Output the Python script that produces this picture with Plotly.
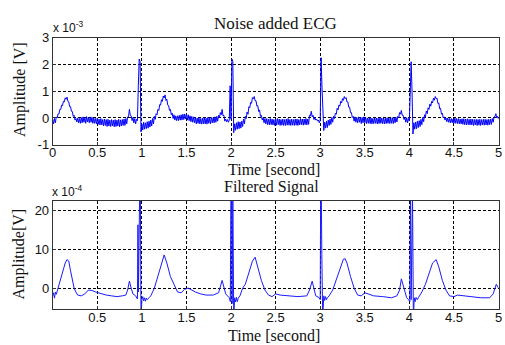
import plotly.graph_objects as go

# ---------------- data ----------------
# Noise added ECG, sampled every 0.01 s from 0 to 5 s, values in units of 1e-3 V
noisy_step = 0.01
noisy_mV = [
    -0.05, -0.22, -0.02, -0.18, 0.04, 0.00, 0.15, 0.15, 0.32, 0.32,
    0.48, 0.46, 0.62, 0.60, 0.75, 0.70, 0.78, 0.62, 0.60, 0.42,
    0.42, 0.25, 0.24, 0.06, 0.10, -0.08, -0.02, -0.15, 0.00, -0.18,
    -0.02, -0.20, 0.02, -0.18, 0.04, -0.16, 0.02, -0.20, 0.05, -0.15,
    0.02, -0.18, 0.04, -0.16, 0.03, -0.20, 0.00, -0.20, -0.02, -0.22,
    0.00, -0.24, -0.04, -0.26, -0.02, -0.26, -0.06, -0.30, -0.04, -0.28,
    -0.06, -0.32, -0.05, -0.30, -0.08, -0.32, -0.06, -0.30, -0.08, -0.33,
    -0.06, -0.32, -0.08, -0.30, -0.05, -0.33, -0.07, -0.30, -0.06, -0.28,
    -0.04, -0.28, -0.02, -0.22, 0.04, 0.05, 0.32, 0.10, 0.08, -0.10,
    0.02, -0.18, -0.02, -0.22, -0.05, -0.10, 1.20, 2.20, 2.10, -0.52,
    -0.22, -0.45, -0.16, -0.42, -0.18, -0.40, -0.14, -0.38, -0.12, -0.34,
    -0.08, -0.30, -0.02, -0.22, 0.06, -0.05, 0.16, 0.12, 0.32, 0.28,
    0.50, 0.48, 0.68, 0.62, 0.82, 0.75, 0.86, 0.65, 0.70, 0.48,
    0.46, 0.28, 0.32, 0.12, 0.18, -0.02, 0.12, -0.08, 0.08, -0.10,
    0.08, -0.10, 0.10, -0.08, 0.12, -0.08, 0.14, -0.06, 0.15, -0.04,
    0.14, -0.08, 0.12, -0.10, 0.08, -0.14, 0.06, -0.16, 0.04, -0.18,
    0.02, -0.22, 0.00, -0.20, 0.02, -0.22, -0.02, -0.23, 0.00, -0.22,
    0.02, -0.22, -0.01, -0.23, 0.02, -0.20, 0.00, -0.22, 0.02, -0.18,
    0.01, -0.18, 0.04, -0.16, 0.06, -0.12, 0.10, 0.02, 0.20, 0.12,
    0.32, 0.08, 0.10, -0.12, -0.04, -0.14, -0.06, -0.16, -0.08, 1.20,
    -0.05, 2.20, 2.10, -0.55, -0.22, -0.46, -0.18, -0.42, -0.14, -0.40,
    -0.15, -0.38, -0.12, -0.32, -0.04, -0.22, 0.06, -0.02, 0.22, 0.14,
    0.42, 0.38, 0.58, 0.55, 0.76, 0.72, 0.80, 0.64, 0.64, 0.44,
    0.46, 0.24, 0.30, 0.06, 0.10, -0.08, 0.01, -0.18, -0.02, -0.22,
    -0.02, -0.25, -0.04, -0.26, -0.02, -0.25, -0.04, -0.26, -0.06, -0.28,
    -0.04, -0.27, -0.02, -0.25, -0.04, -0.28, -0.06, -0.27, -0.04, -0.28,
    -0.06, -0.28, -0.04, -0.27, -0.02, -0.27, -0.06, -0.28, -0.04, -0.27,
    -0.06, -0.28, -0.04, -0.27, -0.04, -0.28, -0.06, -0.26, -0.02, -0.25,
    -0.04, -0.27, -0.04, -0.25, -0.02, -0.26, -0.04, -0.24, 0.10, 0.08,
    0.25, 0.04, 0.10, -0.06, 0.01, -0.08, -0.04, -0.12, -0.08, -0.18,
    -0.08, 2.25, 1.15, 0.00, -0.47, -0.16, -0.38, -0.12, -0.36, -0.08,
    -0.28, -0.04, -0.24, 0.02, -0.16, 0.06, -0.02, 0.18, 0.14, 0.36,
    0.30, 0.48, 0.44, 0.62, 0.56, 0.72, 0.66, 0.80, 0.72, 0.76,
    0.60, 0.60, 0.40, 0.40, 0.20, 0.20, 0.02, 0.06, -0.12, 0.04,
    -0.16, 0.02, -0.18, 0.04, -0.16, 0.02, -0.21, 0.02, -0.18, 0.04,
    -0.18, 0.02, -0.21, 0.00, -0.20, 0.01, -0.21, 0.00, -0.22, -0.02,
    -0.21, 0.01, -0.20, 0.00, -0.22, -0.01, -0.21, 0.01, -0.20, 0.00,
    -0.21, 0.00, -0.22, -0.01, -0.21, 0.01, -0.20, 0.00, -0.21, 0.01,
    -0.20, 0.01, -0.21, 0.00, -0.18, 0.02, -0.15, 0.06, 0.00, 0.20,
    0.14, 0.28, 0.10, 0.10, -0.06, 0.01, -0.16, 0.01, -0.18, -0.02,
    -0.10, 1.00, 2.10, 1.00, -0.60, -0.18, -0.42, -0.15, -0.40, -0.12,
    -0.36, -0.10, -0.32, -0.05, -0.25, 0.02, -0.14, 0.12, 0.04, 0.26,
    0.16, 0.38, 0.32, 0.52, 0.44, 0.62, 0.56, 0.74, 0.66, 0.80,
    0.72, 0.74, 0.54, 0.56, 0.34, 0.36, 0.14, 0.18, 0.00, 0.04,
    -0.08, 0.00, -0.14, 0.00, -0.16, -0.02, -0.18, -0.02, -0.18, -0.04,
    -0.20, 0.00, -0.20, -0.02, -0.21, -0.02, -0.22, -0.04, -0.22, -0.03,
    -0.24, -0.03, -0.25, -0.04, -0.26, -0.03, -0.25, -0.05, -0.26, -0.04,
    -0.26, -0.05, -0.28, -0.06, -0.26, -0.05, -0.28, -0.06, -0.27, -0.05,
    -0.28, -0.06, -0.26, -0.05, -0.27, -0.05, -0.26, -0.06, -0.27, -0.05,
    -0.25, -0.04, -0.24, -0.02, -0.16, 0.04, 0.05, 0.16, 0.00, 0.06,
    -0.05,
]
noisy_t = [round(i * noisy_step, 2) for i in range(len(noisy_mV))]

# Filtered signal: time [s] and value in units of 1e-4 V
filt_t = [
    0.00, 0.01, 0.02, 0.03, 0.04, 0.06, 0.08, 0.10, 0.12, 0.14, 0.16, 0.18, 0.20, 0.22, 0.24, 0.26,
    0.28, 0.32, 0.36, 0.40, 0.44, 0.48, 0.52, 0.56, 0.60, 0.66, 0.72, 0.78, 0.82, 0.84, 0.86, 0.88,
    0.90, 0.93, 0.95, 0.956, 0.962, 0.975, 0.983, 0.99, 1.00, 1.01, 1.02, 1.03, 1.04, 1.05, 1.06, 1.08,
    1.10, 1.14, 1.18, 1.22, 1.25, 1.28, 1.32, 1.36, 1.40, 1.44, 1.48, 1.52, 1.56, 1.60, 1.66, 1.72,
    1.80, 1.86, 1.90, 1.92, 1.94, 1.98, 1.992, 1.998, 2.005, 2.012, 2.02, 2.03, 2.04, 2.05, 2.06, 2.07,
    2.08, 2.10, 2.13, 2.16, 2.20, 2.24, 2.27, 2.30, 2.34, 2.38, 2.42, 2.46, 2.50, 2.55, 2.65, 2.75,
    2.85, 2.88, 2.91, 2.93, 2.95, 2.99, 3.00, 3.005, 3.012, 3.018, 3.028, 3.04, 3.05, 3.06, 3.07, 3.08,
    3.10, 3.14, 3.18, 3.22, 3.26, 3.28, 3.30, 3.34, 3.38, 3.42, 3.46, 3.50, 3.54, 3.60, 3.70, 3.80,
    3.86, 3.89, 3.91, 3.94, 3.97, 3.99, 4.005, 4.012, 4.02, 4.035, 4.045, 4.055, 4.065, 4.075, 4.09, 4.10,
    4.14, 4.18, 4.22, 4.26, 4.30, 4.33, 4.37, 4.41, 4.45, 4.50, 4.54, 4.60, 4.70, 4.80, 4.90, 4.94,
    4.975, 5.00,
]
filt_v = [
    -2.0, -1.2, -2.6, -1.0, -1.6, 0.0, 1.5, 3.0, 5.0, 6.5, 7.4, 7.0, 4.5, 2.0, 0.0, -1.0,
    -1.8, -2.0, -1.5, -0.5, -0.6, -1.0, -1.3, -1.5, -1.8, -2.0, -2.2, -2.0, -1.8, -0.5, 1.8, 0.0,
    -1.5, -2.0, -2.8, 16.4, -1.0, 25.0, 25.0, -8.0, -3.0, -2.2, -3.3, -2.5, -3.4, -2.6, -3.0, -2.5,
    -2.0, 0.0, 3.0, 6.5, 8.6, 6.5, 3.0, 1.0, -1.0, -1.2, -0.3, 0.0, -0.5, -1.0, -1.5, -1.8,
    -1.8, -1.2, 2.0, 0.5, -1.5, -2.5, -3.5, 25.0, 25.0, -4.0, 25.0, -8.0, -2.5, -3.6, -2.4, -3.5,
    -2.6, -2.0, 0.0, 1.0, 4.0, 7.0, 8.0, 5.5, 2.0, -0.5, -1.8, -2.2, -1.5, -1.8, -2.0, -2.2,
    -2.0, -0.5, 1.8, 0.0, -2.0, -2.5, -3.0, 25.0, 25.0, 9.0, -8.0, -2.0, -3.2, -2.2, -3.0, -2.5,
    -2.0, -0.5, 2.0, 5.0, 7.5, 7.6, 6.5, 3.0, 0.0, -1.8, -2.0, -1.2, -1.5, -2.0, -2.2, -2.5,
    -2.0, -0.5, 2.4, 0.0, -2.5, -3.0, -3.5, 25.0, -3.0, 25.0, -8.0, -2.5, -3.5, -2.4, -3.0, -2.5,
    -1.0, 1.0, 4.0, 6.5, 7.4, 5.5, 2.0, -0.5, -2.0, -2.2, -1.8, -2.0, -2.3, -2.5, -2.5, -1.5,
    1.0, 0.0,
]

top_y_ticks = [-1, 0, 1, 2, 3]
bot_y_ticks = [0, 10, 20]
top_x_ticks = [0, 0.5, 1, 1.5, 2, 2.5, 3, 3.5, 4, 4.5, 5]
bot_x_ticks = [0.5, 1, 1.5, 2, 2.5, 3, 3.5, 4, 4.5, 5]

def fmt(v):
    return ("%g" % v)

# ---------------- figure ----------------
W, H = 505, 345
fig = go.Figure()
fig.add_trace(go.Scatter(x=noisy_t, y=noisy_mV, mode="lines",
                         line=dict(color="#0000ff", width=1), xaxis="x", yaxis="y",
                         showlegend=False, hoverinfo="skip"))
fig.add_trace(go.Scatter(x=filt_t, y=filt_v, mode="lines",
                         line=dict(color="#1a1aff", width=1), xaxis="x2", yaxis="y2",
                         showlegend=False, hoverinfo="skip"))

x_dom = [49.5 / W, 502.5 / W]
top_dom = [1 - 144 / H, 1 - 32 / H]
bot_dom = [1 - 315.7 / H, 1 - 202.7 / H]

tickfont = dict(family="Liberation Sans, Arial, sans-serif", size=13, color="#111")
serif = "Liberation Serif, Times New Roman, serif"
common = dict(showline=True, mirror=True, linecolor="#333", linewidth=1,
              ticks="inside", ticklen=3, tickcolor="#333",
              showgrid=True, gridcolor="#000", gridwidth=1, griddash="3px,2px",
              zeroline=False, tickfont=tickfont, ticklabeloverflow="allow")

fig.update_layout(
    width=W, height=H,
    margin=dict(l=0, r=0, t=0, b=0),
    paper_bgcolor="white", plot_bgcolor="white",
    xaxis=dict(domain=x_dom, range=[0, 5], anchor="y", ticklabelstandoff=-4,
               tickvals=top_x_ticks, ticktext=[fmt(v) for v in top_x_ticks], **common),
    yaxis=dict(domain=top_dom, range=[-1, 3], anchor="x",
               tickvals=top_y_ticks, ticktext=[fmt(v) for v in top_y_ticks], **common),
    xaxis2=dict(domain=x_dom, range=[0, 5], anchor="y2", ticklabelstandoff=-4,
                tickvals=bot_x_ticks, ticktext=[fmt(v) for v in bot_x_ticks], **common),
    yaxis2=dict(domain=bot_dom, range=[-5.4, 22.6], anchor="x2",
                tickvals=bot_y_ticks, ticktext=[fmt(v) for v in bot_y_ticks], **common),
)

def px_x(p):
    return p / W

def px_y(p):
    return 1 - p / H

ann = []
# titles
ann.append(dict(text="Noise added ECG", x=px_x(276), y=px_y(17), font=dict(family=serif, size=17, color="#111")))
ann.append(dict(text="Filtered Signal", x=px_x(272), y=px_y(188.5), font=dict(family=serif, size=16, color="#111")))
# x labels
ann.append(dict(text="Time [second]", x=px_x(274), y=px_y(169.5), font=dict(family=serif, size=16, color="#111")))
ann.append(dict(text="Time [second]", x=px_x(274), y=px_y(343), font=dict(family=serif, size=16, color="#111")))
# y labels
ann.append(dict(text="Amplitude [V]", x=px_x(17), y=px_y(86), textangle=-90,
                font=dict(family=serif, size=16, color="#111")))
ann.append(dict(text="Amplitude[V]", x=px_x(15), y=px_y(258), textangle=-90,
                font=dict(family=serif, size=16, color="#111")))
# exponent labels
ann.append(dict(text="x 10<sup>-3</sup>", x=px_x(48), y=px_y(21), xanchor="left",
                font=dict(family="Liberation Sans, Arial, sans-serif", size=12, color="#111")))
ann.append(dict(text="x 10<sup>-4</sup>", x=px_x(47), y=px_y(192), xanchor="left",
                font=dict(family="Liberation Sans, Arial, sans-serif", size=12, color="#111")))

for a in ann:
    a.setdefault("xanchor", "center")
    a.update(xref="paper", yref="paper", yanchor="middle", showarrow=False)
fig.update_layout(annotations=ann)

fig.write_html("out.html")
